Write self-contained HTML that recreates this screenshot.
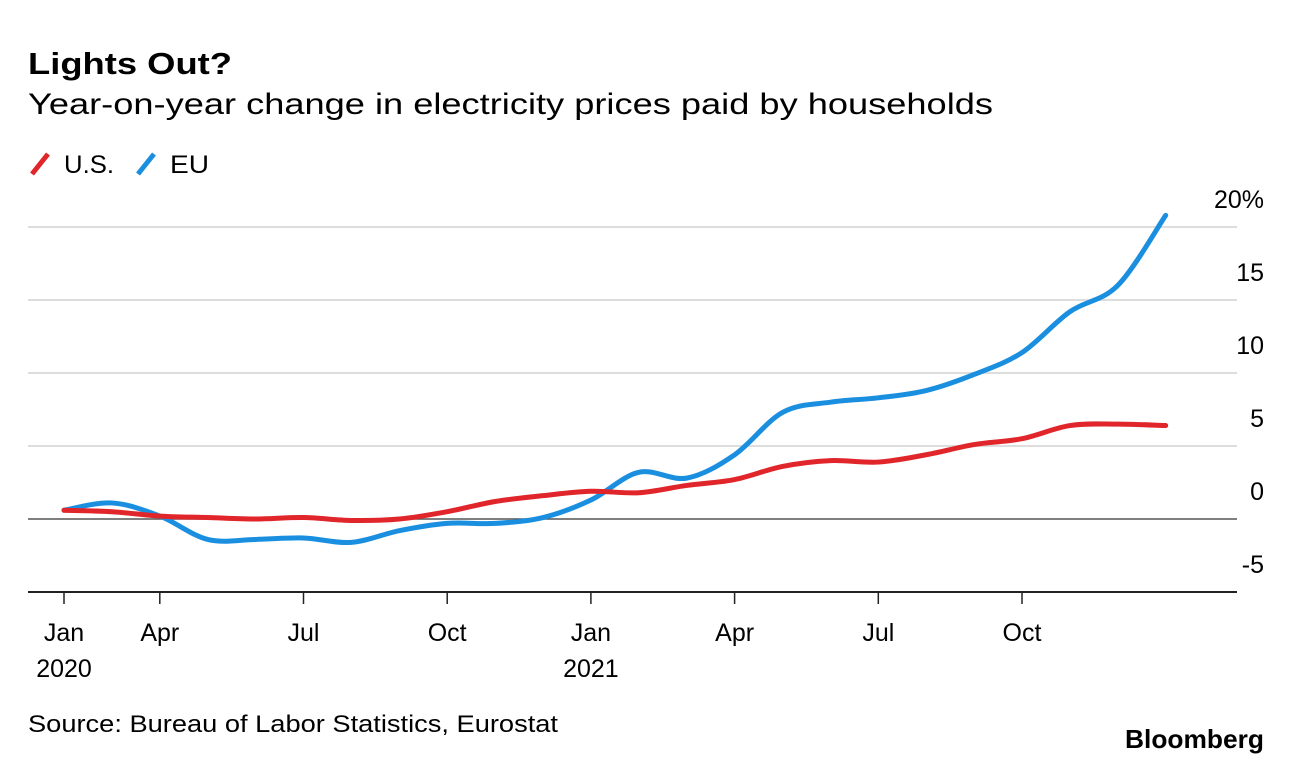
<!DOCTYPE html>
<html><head><meta charset="utf-8"><style>
body{margin:0;background:#fff;font-family:"Liberation Sans",sans-serif;}
svg{display:block}
</style></head><body>
<svg width="1292" height="764">
<text x="28" y="74" font-size="31" font-weight="bold" fill="#000" textLength="204" lengthAdjust="spacingAndGlyphs">Lights Out?</text>
<text x="28" y="114" font-size="30" fill="#000" textLength="965" lengthAdjust="spacingAndGlyphs">Year-on-year change in electricity prices paid by households</text>
<g>
<line x1="32" y1="174" x2="48" y2="154" stroke="#e0262b" stroke-width="5"/>
<text x="64" y="173" font-size="25" textLength="50" lengthAdjust="spacingAndGlyphs">U.S.</text>
<line x1="138" y1="174" x2="154" y2="154" stroke="#1a8fe0" stroke-width="5"/>
<text x="170" y="173" font-size="25" textLength="39" lengthAdjust="spacingAndGlyphs">EU</text>
</g>
<g id="grid"></g>
<g id="series"></g>
<text x="28" y="732" font-size="24" textLength="530" lengthAdjust="spacingAndGlyphs">Source: Bureau of Labor Statistics, Eurostat</text>
<text x="1264" y="748" font-size="26" font-weight="bold" text-anchor="end" textLength="139" lengthAdjust="spacingAndGlyphs">Bloomberg</text>
</svg>
<script>
const usValues=[0.6,0.5,0.2,0.1,0.0,0.1,-0.1,0.0,0.5,1.2,1.6,1.9,1.8,2.3,2.7,3.6,4.0,3.9,4.4,5.1,5.5,6.4,6.5,6.4];
const euValues=[0.6,1.1,0.2,-1.4,-1.4,-1.3,-1.6,-0.8,-0.3,-0.3,0.1,1.3,3.2,2.8,4.4,7.3,8.0,8.3,8.8,9.9,11.4,14.2,16.0,20.8];
const yTicks=[20,15,10,5,0,-5];
const yTickLabels=["20%","15","10","5","0","-5"];
const xTickIdx=[0,2,5,8,11,14,17,20];
const xTickLabels=["Jan","Apr","Jul","Oct","Jan","Apr","Jul","Oct"];
const xYearLabels={0:"2020",11:"2021"};
const NS="http://www.w3.org/2000/svg";
const X=i=>64+i*47.9;
const Y=v=>519-v*14.6;
const grid=document.getElementById('grid'),ser=document.getElementById('series');
function mk(tag,attrs,parent){const e=document.createElementNS(NS,tag);for(const k in attrs)e.setAttribute(k,attrs[k]);parent.appendChild(e);return e;}
yTicks.forEach((v,k)=>{
 const l=mk('line',{x1:28,x2:1237,y1:Y(v),y2:Y(v),stroke:v===0?'#555':(v===-5?'#222':'#ddd'),'stroke-width':v===-5?2:(v===0?1.5:2)},grid);
 
 
 const t=mk('text',{x:1264,y:Y(v)-19,'font-size':25,'text-anchor':'end'},grid);
 t.textContent=yTickLabels[k];
 
 
});
xTickIdx.forEach((i,k)=>{
 const l=mk('line',{x1:X(i),x2:X(i),y1:592,y2:604,stroke:'#222','stroke-width':1.5},grid);
 
 
 const t=mk('text',{x:X(i),y:641,'font-size':25,'text-anchor':'middle'},grid);
 t.textContent=xTickLabels[k];
 
 
 if(xYearLabels[i]){const y=mk('text',{x:X(i),y:677,'font-size':25,'text-anchor':'middle'},grid);y.textContent=xYearLabels[i];
 
 }
});
function pathD(vals){const p=vals.map((v,i)=>[X(i),Y(v)]);let d=`M${p[0][0]},${p[0][1]}`;
 for(let i=0;i<p.length-1;i++){const p0=p[i-1]||p[i],p1=p[i],p2=p[i+1],p3=p[i+2]||p2;
 d+=` C${p1[0]+(p2[0]-p0[0])/6},${p1[1]+(p2[1]-p0[1])/6} ${p2[0]-(p3[0]-p1[0])/6},${p2[1]-(p3[1]-p1[1])/6} ${p2[0]},${p2[1]}`;}return d;}
const eu=mk('path',{d:pathD(euValues),fill:'none',stroke:'#1a8fe0','stroke-width':5,'stroke-linecap':'round'},ser);


const us=mk('path',{d:pathD(usValues),fill:'none',stroke:'#e0262b','stroke-width':5,'stroke-linecap':'round'},ser);


</script>
</body></html>
